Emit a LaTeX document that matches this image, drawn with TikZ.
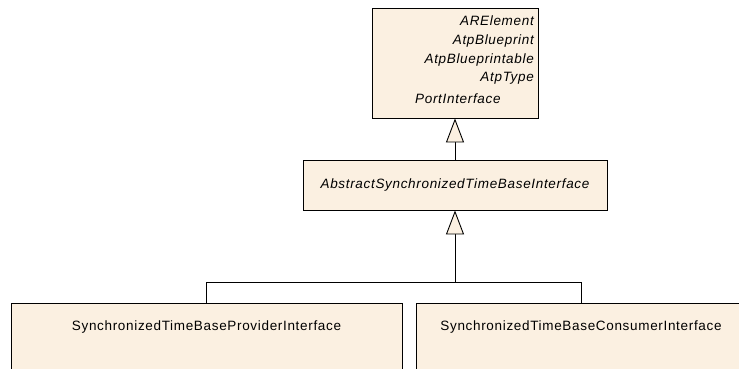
\documentclass[tikz,border=0pt]{standalone}
\usepackage{fontspec}
\setmainfont{Liberation Sans}[LetterSpace=5]
\usetikzlibrary{arrows.meta}
\definecolor{classfill}{RGB}{251,240,225}
\tikzset{
  umlclass/.style={draw=black, fill=classfill, line width=0.9pt, inner sep=0pt,
    font=\fontsize{13.5}{16}\selectfont},
  umltext/.style={inner sep=0pt, font=\fontsize{13.5}{16}\selectfont\itshape},
  inherit/.style={draw=black, line width=0.9pt,
    -{Triangle[open, fill=classfill, width=18pt, length=24pt]}},
}
\begin{document}
\begin{tikzpicture}[x=1pt,y=-1pt]
  \useasboundingbox (0,0) rectangle (739,369);
  \clip (0,0) rectangle (739,369);
  % base classes
  \node[umlclass, minimum width=166pt, minimum height=110pt] (bases) at (455,63) {};
  \node[umltext, anchor=base east] (arelement) at (534,26) {ARElement};
  \node[umltext, anchor=base east] (blueprint) at (534,45) {AtpBlueprint};
  \node[umltext, anchor=base east] (blueprintable) at (534,63.5) {AtpBlueprintable};
  \node[umltext, anchor=base east] (atptype) at (534,81.5) {AtpType};
  \node[umltext, anchor=base west] (portif) at (415,103.5) {PortInterface};
  % abstract interface
  \node[umlclass, minimum width=304pt, minimum height=50pt] (abstract) at (455,185)
    {\itshape AbstractSynchronizedTimeBaseInterface};
  % concrete interfaces
  \node[umlclass, anchor=north, minimum width=391pt, text height=27pt, text depth=60pt]
    (provider) at (206.5,303) {SynchronizedTimeBaseProviderInterface};
  \node[umlclass, anchor=north, minimum width=330pt, text height=27pt, text depth=60pt]
    (consumer) at (581,303) {SynchronizedTimeBaseConsumerInterface};
  % generalizations
  \coordinate (join) at (455,282);
  \draw[inherit] (abstract.north) -- (bases.south);
  \draw[inherit] (provider.north) |- (join) -- (abstract.south);
  \draw[line width=0.9pt] (consumer.north) |- (join);
\end{tikzpicture}
\end{document}
